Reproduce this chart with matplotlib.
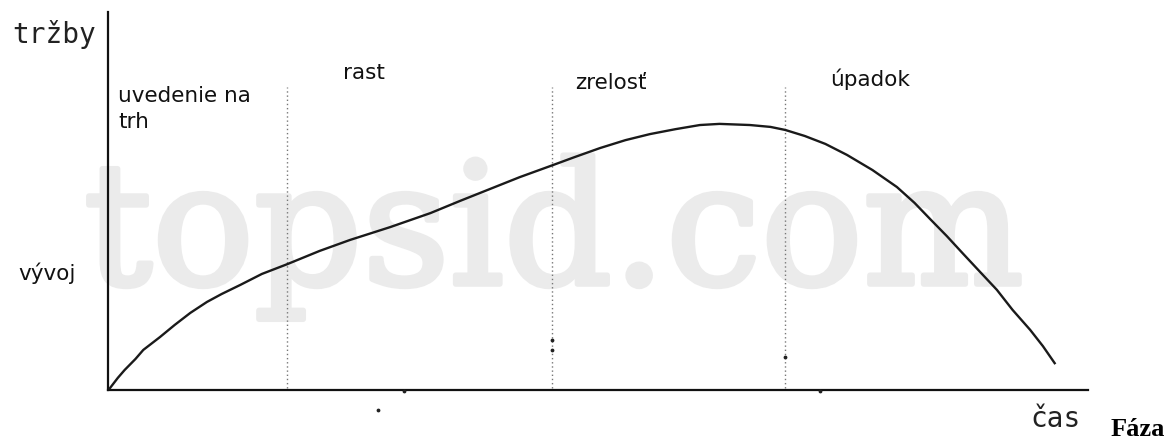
import numpy as np
import matplotlib
matplotlib.use("Agg")
import matplotlib.pyplot as plt
import matplotlib.patheffects as pe

# product life cycle curve (time 0..100, sales 0..100)
time = [0.2, 1.0, 1.7, 2.8, 3.6, 5.3, 6.8, 8.4, 10.1, 11.6, 13.5, 15.7,
        18.3, 21.6, 24.7, 28.8, 32.9, 35.9, 39.0, 42.0, 45.4, 47.6, 50.2,
        52.8, 55.3, 57.9, 60.4, 62.4, 65.5, 67.6, 69.1, 71.1, 73.2, 75.4,
        78.0, 80.5, 82.3, 83.9, 85.6, 87.2, 89.0, 90.7, 92.3, 94.1, 95.4, 96.6]
sales = [0.5, 3.2, 5.3, 8.2, 10.6, 14.0, 17.2, 20.4, 23.3, 25.4, 27.8, 30.7,
         33.3, 36.8, 39.7, 43.1, 46.8, 50.0, 53.2, 56.3, 59.5, 61.6, 64.0,
         66.1, 67.7, 69.0, 70.1, 70.4, 70.1, 69.6, 68.8, 67.2, 65.1, 62.2,
         58.2, 53.7, 49.5, 45.2, 40.7, 36.2, 31.2, 26.5, 21.2, 15.9, 11.6, 7.1]

# phase boundaries (dotted lines) and their height
phase_bounds = [18.3, 45.3, 69.1]
bound_top = 80.2

phase_labels = ["uvedenie na", "trh", "rast", "zrelosť", "úpadok"]
y_label = "tržby"
x_label = "čas"
dev_label = "vývoj"
corner_label = "Fáza"
watermark = "topsid.com"

# small specks that are in the scan
speck_t = [45.3, 45.3, 69.1, 30.2, 27.6, 72.7]
speck_s = [13.2, 10.6, 8.7, -0.3, -5.3, -0.3]

W, H = 1171, 448
fig = plt.figure(figsize=(W / 100, H / 100), dpi=100)
fig.patch.set_facecolor("white")

# axes box: left spine at x=108 px, bottom spine at y=390 px
ax = fig.add_axes([108 / W, 58 / H, 980 / W, 378 / H])
ax.set_facecolor("none")
ax.set_xlim(0, 100)
ax.set_ylim(0, 100)
for side in ["top", "right"]:
    ax.spines[side].set_visible(False)
for side in ["left", "bottom"]:
    ax.spines[side].set_linewidth(1.6)
    ax.spines[side].set_color("#111111")
ax.set_xticks([])
ax.set_yticks([])


def fx(px):
    return px / W


def fy(py):
    return 1 - py / H


# watermark behind everything
ax.text(fx(84), fy(284), watermark, transform=fig.transFigure,
        family="DejaVu Serif", fontsize=122, color="#ebebeb",
        va="baseline", ha="left", zorder=0, clip_on=False,
        path_effects=[pe.withStroke(linewidth=4, foreground="#ebebeb")])

for b in phase_bounds:
    ax.plot([b, b], [0.5, bound_top], color="#777777", lw=1.0,
            linestyle=(0, (1, 2)), zorder=1, clip_on=False)

ax.plot(time, sales, color="#1a1a1a", lw=1.7, zorder=3,
        solid_joinstyle="round", clip_on=False)

ax.scatter(speck_t, speck_s, s=3, color="#222222", zorder=3, clip_on=False)

# labels (pixel positions converted to figure fractions)
label_kw = dict(family="DejaVu Sans", fontsize=15.5, color="#111111",
                va="baseline", ha="left")
label_pos = [(118, 102), (118, 128), (343, 79), (575, 89), (830, 86)]
for lab, (px, py) in zip(phase_labels, label_pos):
    fig.text(fx(px), fy(py), lab, **label_kw)

fig.text(fx(18), fy(280), dev_label, **label_kw)

mono_kw = dict(family="DejaVu Sans Mono", fontsize=20, color="#222222",
               va="baseline", ha="left")
fig.text(fx(12), fy(43), y_label, **mono_kw)
fig.text(fx(1030), fy(427), x_label, **mono_kw)

fig.text(fx(1111), fy(436), corner_label, family="Liberation Serif",
         fontweight="bold", fontsize=19, color="black",
         va="baseline", ha="left")

fig.savefig("out.png", dpi=100)
